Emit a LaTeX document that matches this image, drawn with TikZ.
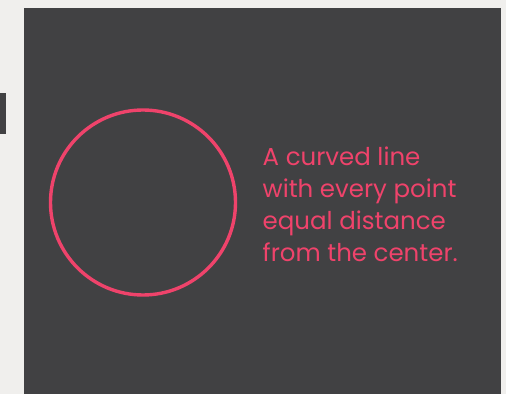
\documentclass[tikz,border=0pt]{standalone}
\usepackage{fontspec}
\setmainfont{Poppins}
\definecolor{pagebg}{HTML}{F0EFED}
\definecolor{panel}{HTML}{414143}
\definecolor{accent}{HTML}{EF436B}
\begin{document}
\begin{tikzpicture}[x=1pt,y=1pt,
  panelbox/.style={fill=panel,draw=none},
  ring/.style={draw=accent,line width=3.4pt},
  caption/.style={text=accent,font=\fontsize{24.5}{32}\selectfont,align=left,inner sep=0pt,anchor=base west}]
\fill[pagebg] (0,0) rectangle (506,394);
\useasboundingbox (0,0) rectangle (506,394);
\fill[panel] (24,0) rectangle (501,386);
\fill[panel] (0,260) rectangle (6,301);
\node[circle,minimum size=185pt,inner sep=0pt,ring] (c) at (143,191.5) {};
\node[caption] (t) at (262.5,132.3) {A curved line\\with every point\\equal distance\\from the center.};
\end{tikzpicture}
\end{document}
